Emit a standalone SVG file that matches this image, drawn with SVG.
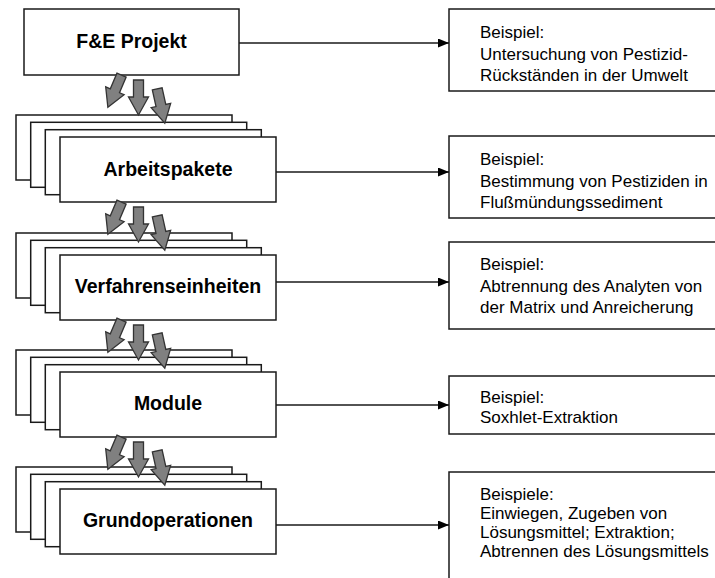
<svg xmlns="http://www.w3.org/2000/svg" width="715" height="578" viewBox="0 0 715 578">
<defs>
<style>
.box{fill:#fff;stroke:#1a1a1a;stroke-width:1.5}
.lbl{font-family:"Liberation Sans",Arial,sans-serif;font-weight:bold;font-size:19.5px;fill:#000;text-anchor:middle}
.ex{font-family:"Liberation Sans",Arial,sans-serif;font-size:17px;fill:#000}
.conn{stroke:#1a1a1a;stroke-width:1.5;fill:none}
.blk{fill:#808080;stroke:#333;stroke-width:1.3;stroke-linejoin:miter}
</style>
<marker id="ah" markerWidth="12" markerHeight="10" refX="11" refY="4.5" orient="auto" markerUnits="userSpaceOnUse">
<path d="M0,0 L11,4.5 L0,9 Z" fill="#000"/>
</marker>
<path id="barrow" d="M-5,-17 L5,-17 L5,0 L10,0 L0,18 L-10,0 L-5,0 Z"/>
<g id="stack">
<rect class="box" x="16" y="0" width="216" height="65"/>
<rect class="box" x="30.7" y="7.3" width="216" height="65"/>
<rect class="box" x="45.3" y="14.7" width="216" height="65"/>
<rect class="box" x="60" y="22" width="216" height="65"/>
</g>
<g id="tri">
<use href="#barrow" class="blk" transform="translate(114.9,15.8) rotate(23)"/>
<use href="#barrow" class="blk" transform="translate(138.5,22)"/>
<use href="#barrow" class="blk" transform="translate(160.9,30.5) rotate(-12.5)"/>
</g>
</defs>

<g id="node-fe">
<rect class="box" x="24" y="9" width="215" height="66"/>
<text class="lbl" x="131.5" y="48">F&amp;E Projekt</text>
</g>

<g id="node-arbeitspakete">
<use href="#stack" transform="translate(0,115)"/>
<text class="lbl" x="168" y="176">Arbeitspakete</text>
</g>

<g id="node-verfahrenseinheiten">
<use href="#stack" transform="translate(0,233)"/>
<text class="lbl" x="168" y="293">Verfahrenseinheiten</text>
</g>

<g id="node-module">
<use href="#stack" transform="translate(0,350)"/>
<text class="lbl" x="168" y="410">Module</text>
</g>

<g id="node-grundoperationen">
<use href="#stack" transform="translate(0,467)"/>
<text class="lbl" x="168" y="527">Grundoperationen</text>
</g>

<g id="ex-1">
<rect class="box" x="449" y="9" width="300" height="82"/>
<text class="ex" x="480" y="38">Beispiel:</text>
<text class="ex" x="480" y="60">Untersuchung von Pestizid-</text>
<text class="ex" x="480" y="81">Rückständen in der Umwelt</text>
</g>

<g id="ex-2">
<rect class="box" x="449" y="136" width="300" height="82"/>
<text class="ex" x="480" y="165">Beispiel:</text>
<text class="ex" x="480" y="187">Bestimmung von Pestiziden in</text>
<text class="ex" x="480" y="208">Flußmündungssediment</text>
</g>

<g id="ex-3">
<rect class="box" x="449" y="242" width="300" height="87"/>
<text class="ex" x="480" y="270">Beispiel:</text>
<text class="ex" x="480" y="292">Abtrennung des Analyten von</text>
<text class="ex" x="480" y="313">der Matrix und Anreicherung</text>
</g>

<g id="ex-4">
<rect class="box" x="449" y="376" width="300" height="58"/>
<text class="ex" x="480" y="403">Beispiel:</text>
<text class="ex" x="480" y="423">Soxhlet-Extraktion</text>
</g>

<g id="ex-5">
<rect class="box" x="449" y="472" width="300" height="140"/>
<text class="ex" x="480" y="500">Beispiele:</text>
<text class="ex" x="480" y="519">Einwiegen, Zugeben von</text>
<text class="ex" x="480" y="538">Lösungsmittel; Extraktion;</text>
<text class="ex" x="480" y="557">Abtrennen des Lösungsmittels</text>
</g>

<g id="connectors">
<line class="conn" x1="239" y1="43" x2="449" y2="43" marker-end="url(#ah)"/>
<line class="conn" x1="276" y1="172" x2="449" y2="172" marker-end="url(#ah)"/>
<line class="conn" x1="276" y1="282" x2="449" y2="282" marker-end="url(#ah)"/>
<line class="conn" x1="276" y1="405" x2="449" y2="405" marker-end="url(#ah)"/>
<line class="conn" x1="276" y1="525" x2="449" y2="525" marker-end="url(#ah)"/>
<use href="#tri" transform="translate(0,75)"/>
<use href="#tri" transform="translate(0,202)"/>
<use href="#tri" transform="translate(0,320)"/>
<use href="#tri" transform="translate(0,437)"/>
</g>
</svg>
